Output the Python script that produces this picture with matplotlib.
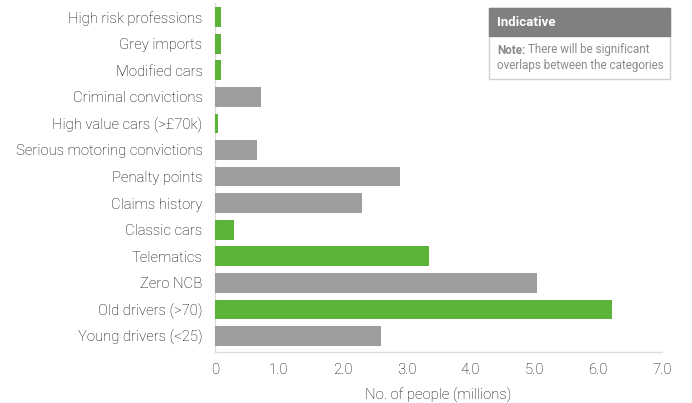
import matplotlib
matplotlib.use("Agg")
import matplotlib.pyplot as plt
from matplotlib.patches import Rectangle

categories = ["High risk professions", "Grey imports", "Modified cars", "Criminal convictions",
              "High value cars (>£70k)", "Serious motoring convictions", "Penalty points",
              "Claims history", "Classic cars", "Telematics", "Zero NCB", "Old drivers (>70)",
              "Young drivers (<25)"]
values = [0.1, 0.1, 0.1, 0.72, 0.04, 0.65, 2.9, 2.3, 0.3, 3.35, 5.05, 6.22, 2.6]
is_green = [True, True, True, False, True, False, False, False, True, True, False, True, False]
xticks = [0, 1, 2, 3, 4, 5, 6, 7]
xticklabels = ["0", "1.0", "2.0", "3.0", "4.0", "5.0", "6.0", "7.0"]

GREEN = "#5DB33A"
GREY = "#9E9E9E"
plt.rcParams['font.family'] = ['Roboto', 'DejaVu Sans']

W, H = 692, 403
fig = plt.figure(figsize=(W / 100, H / 100), dpi=100)
ax = fig.add_axes([215 / W, 1 - 352 / H, (662 - 215) / W, (352 - 3) / H])

colors = [GREEN if g else GREY for g in is_green]
ypos = list(range(len(categories)))
ax.barh(ypos, values, height=0.74, color=colors, linewidth=0, zorder=3)
ax.set_ylim(len(categories) - 1 + 0.6, -0.53)
ax.set_xlim(0, 7)
ax.set_yticks(ypos)
ax.set_yticklabels(categories, fontsize=10.7, color="#000000", fontweight="light")
ax.set_xticks(xticks)
ax.set_xticklabels(xticklabels, fontsize=10.7, color="#000000", fontweight="light")
ax.tick_params(axis="both", length=0)
ax.tick_params(axis="y", pad=9)
ax.tick_params(axis="x", pad=8)
for s in ["top", "right"]:
    ax.spines[s].set_visible(False)
for s in ["left", "bottom"]:
    ax.spines[s].set_color("#DDDDDD")
    ax.spines[s].set_linewidth(1)
    ax.spines[s].set_zorder(1)
ax.set_xlabel("No. of people (millions)", fontsize=10.7, color="#000000", fontweight="light", labelpad=8)

# Annotation box
def fx(px):
    return px / W

def fy(py):
    return 1 - py / H

bx0, bx1 = 489, 670
by0, bhead, by1 = 8, 36, 79
fig.patches.append(Rectangle((fx(bx0), fy(by1)), fx(bx1) - fx(bx0), fy(by0) - fy(by1),
                             transform=fig.transFigure, facecolor="white",
                             edgecolor="#D0D0D0", linewidth=1))
fig.patches.append(Rectangle((fx(bx0), fy(bhead)), fx(bx1) - fx(bx0), fy(by0) - fy(bhead),
                             transform=fig.transFigure, facecolor="#808080",
                             edgecolor="#808080", linewidth=1))
fig.text(fx(497), fy(22), "Indicative", color="white", fontsize=9.5, fontweight="bold",
         va="center", ha="left")
t1 = fig.text(fx(497), fy(50), "Note:", color="#8A8A8A", fontsize=8.4, fontweight="bold",
              va="center", ha="left")
fig.canvas.draw()
bb = t1.get_window_extent()
fig.text(bb.x1 / W + 3 / W, fy(50), "There will be significant", color="#8A8A8A", fontsize=8.4,
         va="center", ha="left")
fig.text(fx(497), fy(66), "overlaps between the categories", color="#8A8A8A", fontsize=8.4,
         va="center", ha="left")

fig.savefig("out.png", dpi=100)
